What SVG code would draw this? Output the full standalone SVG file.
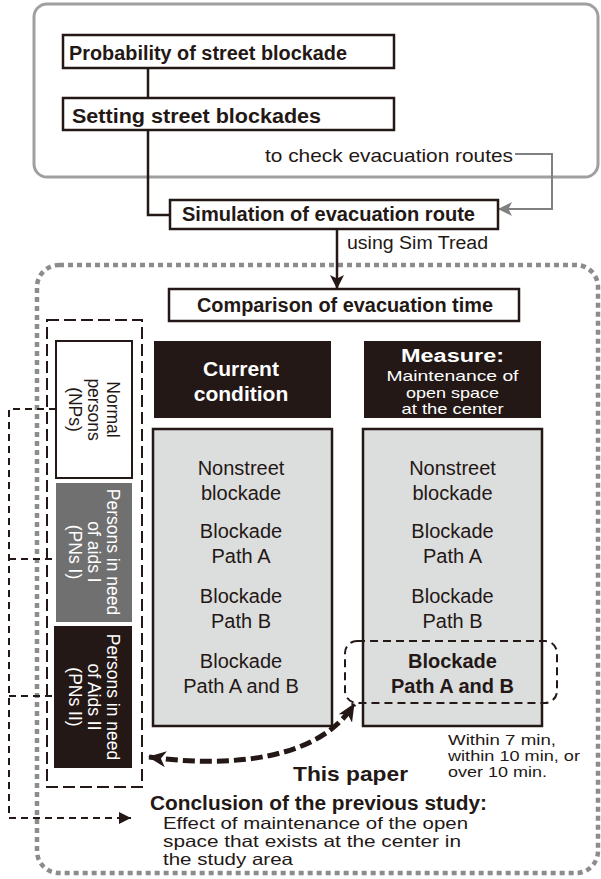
<svg xmlns="http://www.w3.org/2000/svg" width="601" height="879" viewBox="0 0 601 879">
<defs>
<style>
text { font-family: "Liberation Sans", Arial, Helvetica, sans-serif; fill: #231815; }
.b { font-weight: bold; }
.c { text-anchor: middle; }
.w { fill: #ffffff; }
.box { fill: #ffffff; stroke: #231815; stroke-width: 2.5; }
.dark { fill: #231815; }
.gray { fill: #dcdddd; stroke: #231815; stroke-width: 2.5; }
.ln { fill: none; stroke: #231815; stroke-width: 2.5; }
.dash { fill: none; stroke: #231815; stroke-width: 2; stroke-dasharray: 7 5; }
.f20 { font-size: 20px; }
.f18 { font-size: 18px; }
.f17 { font-size: 17.5px; }
.hd { font-size: 15px; }
.tn { font-size: 14.5px; }
.cn { font-size: 16.5px; }
</style>
<marker id="ah" viewBox="0 0 14 14" refX="13" refY="7" markerWidth="14" markerHeight="14" markerUnits="userSpaceOnUse" orient="auto">
<path d="M0,0 L14,7 L0,14 L3.5,7 z" fill="#231815"/>
</marker>
<marker id="ahg" viewBox="0 0 14 14" refX="13" refY="7" markerWidth="14" markerHeight="14" markerUnits="userSpaceOnUse" orient="auto">
<path d="M0,0 L14,7 L0,14 L3.5,7 z" fill="#808080"/>
</marker>
<marker id="ahs" viewBox="0 0 12 12" refX="12" refY="6" markerWidth="12" markerHeight="12" markerUnits="userSpaceOnUse" orient="auto">
<path d="M0,0 L12,6 L0,12 z" fill="#231815"/>
</marker>
<marker id="ahb" viewBox="0 0 18 16" refX="17" refY="8" markerWidth="18" markerHeight="16" markerUnits="userSpaceOnUse" orient="auto-start-reverse">
<path d="M0,0 L18,8 L0,16 L5,8 z" fill="#231815"/>
</marker>
</defs>

<rect x="0" y="0" width="601" height="879" fill="#ffffff"/>

<g id="top-frame">
<rect x="34" y="4" width="564" height="173" rx="13" fill="none" stroke="#a0a0a0" stroke-width="3"/>
</g>
<g id="study-frame">
<rect x="37" y="265" width="561" height="608" rx="22" fill="none" stroke="#8c8c8c" stroke-width="4.5" stroke-dasharray="5 4"/>
</g>

<g id="connectors">
<line class="ln" x1="148" y1="68" x2="148" y2="98"/>
<polyline class="ln" points="148,130 148,215 170,215"/>
<polyline fill="none" stroke="#808080" stroke-width="2" points="515,154 552,154 552,209 499,209" marker-end="url(#ahg)"/>
<line class="ln" x1="337" y1="229" x2="337" y2="288" marker-end="url(#ah)"/>
<polyline class="dash" points="56,409 9,409 9,818 131,818" marker-end="url(#ahs)"/>
<line class="dash" x1="9" y1="559" x2="56" y2="559"/>
<line class="dash" x1="9" y1="696" x2="54" y2="696"/>
<path d="M149,757 C230,768 320,760 354,704" fill="none" stroke="#231815" stroke-width="5" stroke-dasharray="12 5" marker-start="url(#ahb)" marker-end="url(#ahb)"/>
</g>

<g id="probability">
<rect class="box" x="63" y="35" width="331" height="33"/>
<text class="b f20" x="69" y="60" textLength="278" lengthAdjust="spacingAndGlyphs">Probability of street blockade</text>
</g>
<g id="setting">
<rect class="box" x="63" y="98" width="331" height="32"/>
<text class="b f20" x="72" y="123" textLength="249" lengthAdjust="spacingAndGlyphs">Setting street blockades</text>
</g>
<g id="check-label">
<text style="font-size:19px" x="265" y="162" textLength="248" lengthAdjust="spacingAndGlyphs">to check evacuation routes</text>
</g>
<g id="simulation">
<rect class="box" x="170" y="200" width="328" height="29"/>
<text class="b f20" x="182" y="221" textLength="293" lengthAdjust="spacingAndGlyphs">Simulation of evacuation route</text>
</g>
<g id="simtread-label">
<text class="f18" x="347" y="249" textLength="141" lengthAdjust="spacingAndGlyphs">using Sim Tread</text>
</g>
<g id="comparison">
<rect class="box" x="169" y="289" width="350" height="32"/>
<text class="b f20" x="197" y="312" textLength="296" lengthAdjust="spacingAndGlyphs">Comparison of evacuation time</text>
</g>

<g id="persons-group">
<rect x="47" y="320" width="95" height="467" fill="none" stroke="#231815" stroke-width="2" stroke-dasharray="12 5"/>
</g>
<g id="normal-persons">
<rect x="56" y="341" width="76" height="137" fill="#ffffff" stroke="#231815" stroke-width="2"/>
<g transform="translate(107,409.5) rotate(90)">
<text class="f17 c" x="0" y="0">Normal</text>
<text class="f17 c" x="0" y="19">persons</text>
<text class="f17 c" x="0" y="38">(NPs)</text>
</g>
</g>
<g id="pns1">
<rect x="56" y="483" width="76" height="139" fill="#717071"/>
<g transform="translate(107,552) rotate(90)">
<text class="f17 c w" x="0" y="0">Persons in need</text>
<text class="f17 c w" x="0" y="19">of aids I</text>
<text class="f17 c w" x="0" y="38">(PNs I)</text>
</g>
</g>
<g id="pns2">
<rect x="54" y="626" width="78" height="142" fill="#231815"/>
<g transform="translate(107,697) rotate(90)">
<text class="f17 c w" x="0" y="0">Persons in need</text>
<text class="f17 c w" x="0" y="19">of Aids II</text>
<text class="f17 c w" x="0" y="38">(PNs II)</text>
</g>
</g>

<g id="current-header">
<rect class="dark" x="154" y="341" width="177" height="77"/>
<text class="b c w" style="font-size:21px" x="241" y="376">Current</text>
<text class="b c w" style="font-size:21px" x="241" y="401">condition</text>
</g>
<g id="measure-header">
<rect class="dark" x="364" y="341" width="177" height="77"/>
<text class="b c w" style="font-size:18px" x="452.5" y="362" textLength="103" lengthAdjust="spacingAndGlyphs">Measure:</text>
<text class="c w hd" x="452.5" y="381" textLength="132" lengthAdjust="spacingAndGlyphs">Maintenance of</text>
<text class="c w hd" x="452.5" y="398" textLength="93" lengthAdjust="spacingAndGlyphs">open space</text>
<text class="c w hd" x="452.5" y="414" textLength="102" lengthAdjust="spacingAndGlyphs">at the center</text>
</g>

<g id="current-cases">
<rect class="gray" x="153" y="429" width="179" height="297"/>
<text class="f20 c" x="241" y="475">Nonstreet</text>
<text class="f20 c" x="241" y="500">blockade</text>
<text class="f20 c" x="241" y="538">Blockade</text>
<text class="f20 c" x="241" y="563">Path A</text>
<text class="f20 c" x="241" y="603">Blockade</text>
<text class="f20 c" x="241" y="628">Path B</text>
<text class="f20 c" x="241" y="668">Blockade</text>
<text class="f20 c" x="241" y="693">Path A and B</text>
</g>
<g id="measure-cases">
<rect class="gray" x="363" y="429" width="179" height="297"/>
<text class="f20 c" x="452.5" y="475">Nonstreet</text>
<text class="f20 c" x="452.5" y="500">blockade</text>
<text class="f20 c" x="452.5" y="538">Blockade</text>
<text class="f20 c" x="452.5" y="563">Path A</text>
<text class="f20 c" x="452.5" y="603">Blockade</text>
<text class="f20 c" x="452.5" y="628">Path B</text>
<text class="f20 c b" x="452.5" y="668">Blockade</text>
<text class="f20 c b" x="452.5" y="693">Path A and B</text>
</g>
<g id="highlight">
<rect x="345" y="641" width="212" height="62" rx="12" fill="none" stroke="#231815" stroke-width="2" stroke-dasharray="8 5"/>
</g>

<g id="time-note">
<text class="tn" x="448" y="745" textLength="108" lengthAdjust="spacingAndGlyphs">Within 7 min,</text>
<text class="tn" x="448" y="761" textLength="132" lengthAdjust="spacingAndGlyphs">within 10 min, or</text>
<text class="tn" x="448" y="777" textLength="99" lengthAdjust="spacingAndGlyphs">over 10 min.</text>
</g>
<g id="this-paper">
<text class="b" style="font-size:21px" x="293" y="781" textLength="115" lengthAdjust="spacingAndGlyphs">This paper</text>
</g>
<g id="conclusion">
<text class="b" style="font-size:19.5px" x="150" y="810" textLength="337" lengthAdjust="spacingAndGlyphs">Conclusion of the previous study:</text>
<text class="cn" x="163" y="829" textLength="305" lengthAdjust="spacingAndGlyphs">Effect of maintenance of the open</text>
<text class="cn" x="163" y="847" textLength="298" lengthAdjust="spacingAndGlyphs">space that exists at the center in</text>
<text class="cn" x="163" y="865" textLength="130" lengthAdjust="spacingAndGlyphs">the study area</text>
</g>
</svg>
